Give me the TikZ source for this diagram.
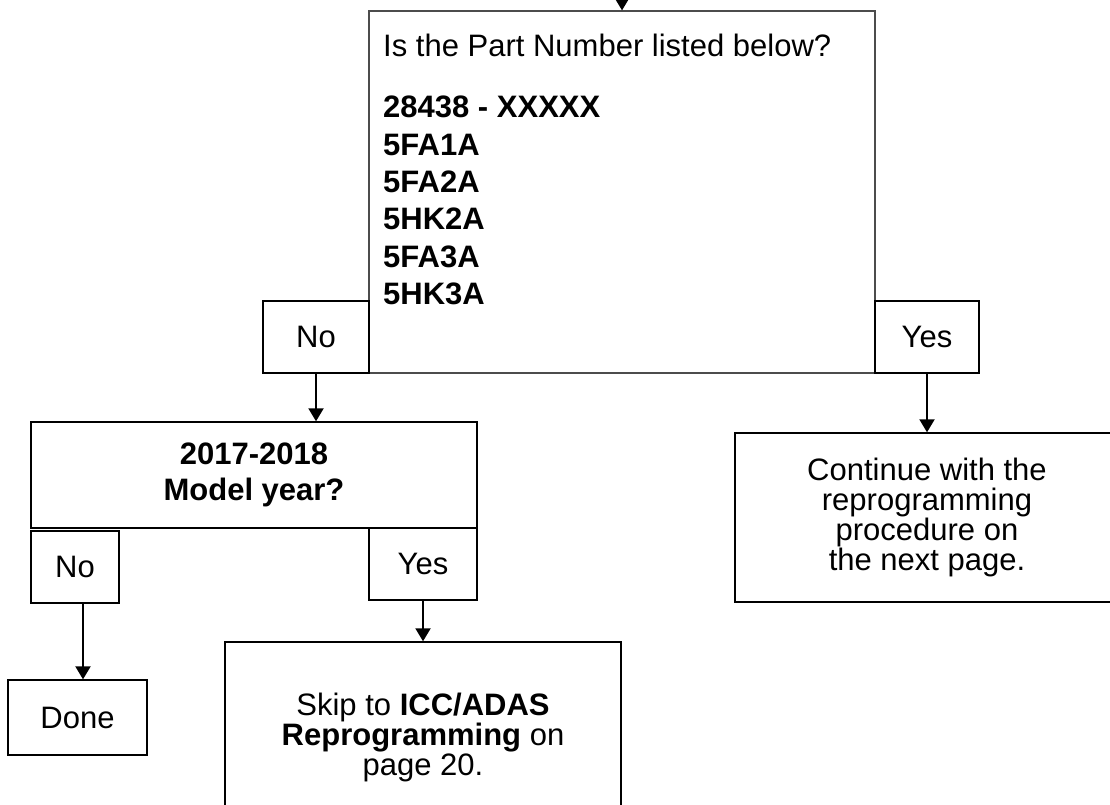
\documentclass[tikz,border=0pt]{standalone}
\usepackage{fontspec}
\setmainfont{Liberation Sans}
\usetikzlibrary{arrows.meta}

\begin{document}
\begin{tikzpicture}[
    x=1pt, y=-1pt,
    box/.style={rectangle, draw, line width=1.4pt, inner sep=0pt, align=center, font=\fontsize{31}{30}\selectfont},
    answer/.style={box, minimum width=#1, minimum height=72pt},
    flow/.style={-{Triangle[length=13pt,width=15pt]}, line width=2pt}
]
    \useasboundingbox (0,0) rectangle (1110,804);
    \clip (0,0) rectangle (1110,804);

    \node[box, draw=black!70, line width=1.2pt, minimum width=506pt, minimum height=362pt] (partq) at (622,192) {};
    \node[anchor=north west, inner sep=0pt, align=left, font=\fontsize{31}{37.4}\selectfont] (partlist) at (383,34)
        {Is the Part Number listed below?\\[23.6pt]
         \textbf{28438 - XXXXX}\\ \textbf{5FA1A}\\ \textbf{5FA2A}\\ \textbf{5HK2A}\\ \textbf{5FA3A}\\ \textbf{5HK3A}};
    \node[answer=106pt] (no1) at (316,337) {No};
    \node[answer=104pt] (yes1) at (927,337) {Yes};

    \node[box, minimum width=446pt, minimum height=106pt, font=\fontsize{31}{36}\selectfont\bfseries] (model) at (254,475) {2017-2018\\Model year?};
    \node[answer=88pt] (no2) at (75,567) {No};
    \node[answer=108pt] (yes2) at (423,564) {Yes};

    \node[box, minimum width=139pt, minimum height=75pt] (done) at (77.5,717.5) {Done};
    \node[box, minimum width=396pt, minimum height=190pt] (skip) at (423,737)
        {Skip to \textbf{ICC/ADAS}\\\textbf{Reprogramming} on\\page 20.};
    \node[box, minimum width=384pt, minimum height=169pt] (cont) at (927,517.5)
        {Continue with the\\reprogramming\\procedure on\\the next page.};

    \coordinate (entry) at (622,0);
    \draw[flow] (entry) -- (partq.north);
    \draw[flow] (no1.south) -- (no1.south |- model.north);
    \draw[flow] (yes1.south) -- (cont.north);
    \draw[flow] ([xshift=8pt]no2.south) -- ([xshift=8pt]no2.south |- done.north);
    \draw[flow] (yes2.south) -- (skip.north);
\end{tikzpicture}
\end{document}
